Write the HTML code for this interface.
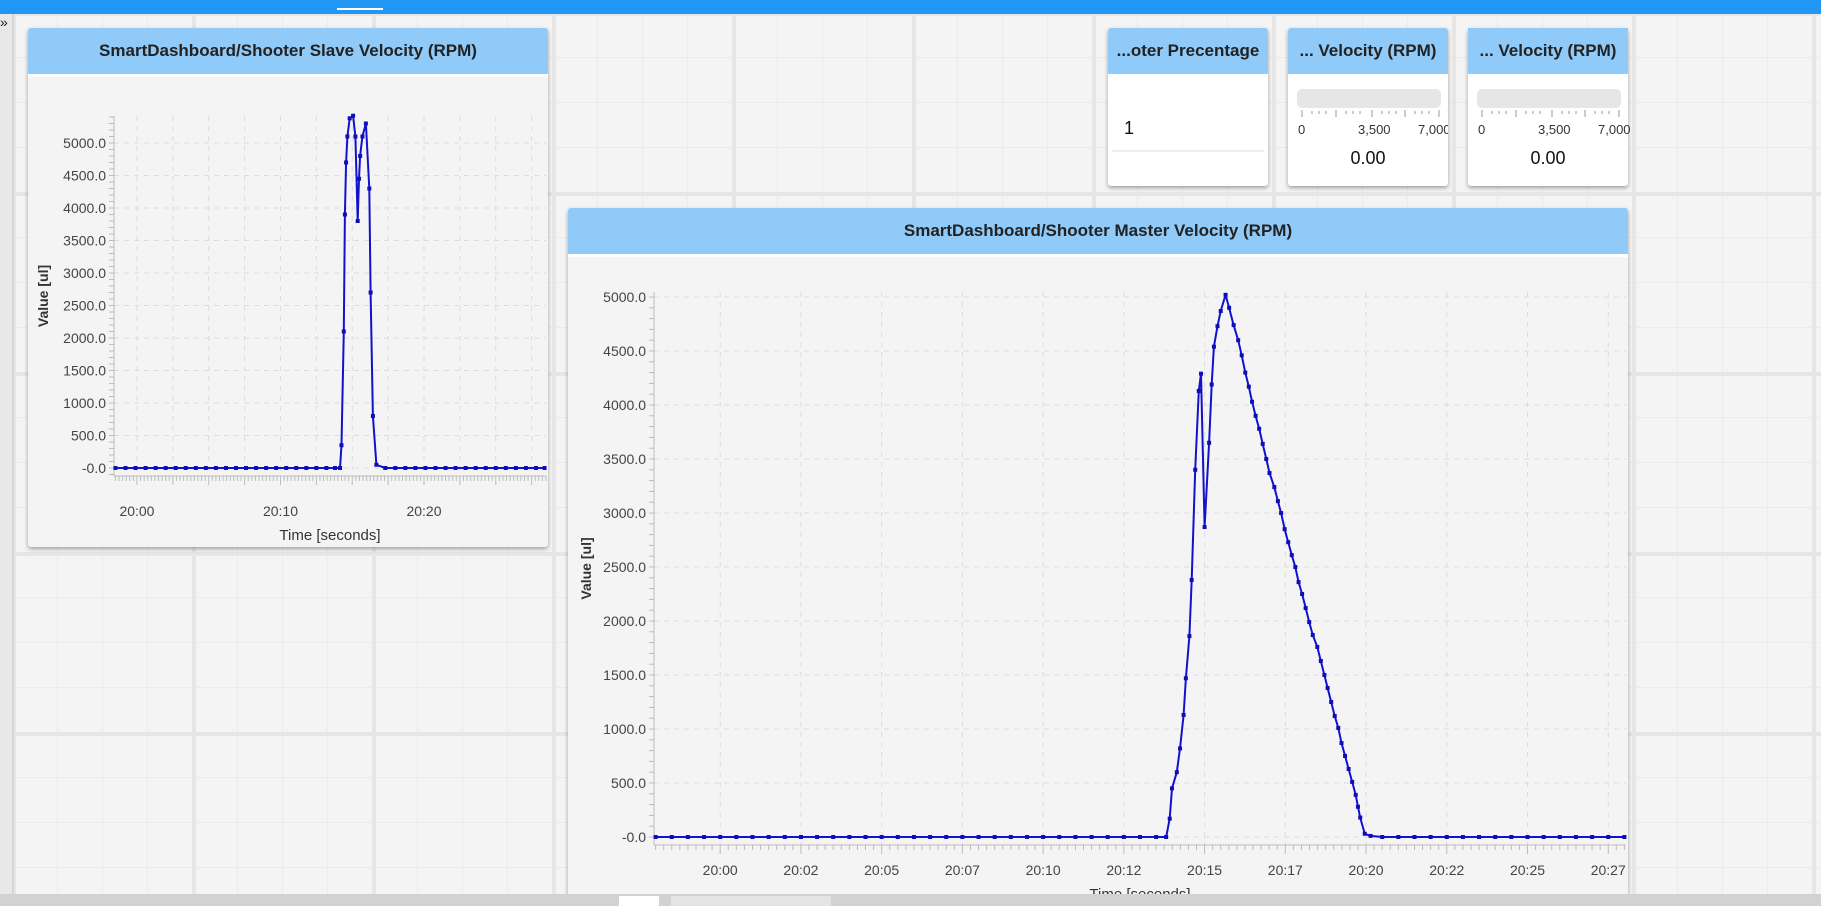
<!DOCTYPE html>
<html><head><meta charset="utf-8"><style>
html,body{margin:0;padding:0;overflow:hidden;width:1821px;height:906px;}
body{position:relative;font-family:"Liberation Sans",sans-serif;
background-color:#f4f4f4;
background-image:
linear-gradient(to right,#e6e6e6 0,#e6e6e6 4px,transparent 4px),
linear-gradient(to bottom,#e6e6e6 0,#e6e6e6 4px,transparent 4px),
linear-gradient(to right,#ebebeb 0,#ebebeb 1px,transparent 1px),
linear-gradient(to bottom,#ebebeb 0,#ebebeb 1px,transparent 1px);
background-size:180px 180px,180px 180px,45px 45px,45px 45px;
background-position:12px 12px,12px 12px,12px 12px,12px 12px;}
.abs{position:absolute;}
.panel{position:absolute;background:#f4f4f4;box-shadow:0 2px 4px rgba(0,0,0,0.35);border-radius:3px;overflow:hidden;}
.hdr{position:absolute;left:0;top:0;right:0;height:46px;background:#90caf9;border-bottom:3px solid #fff;font-weight:bold;font-size:17px;color:#222;text-align:center;line-height:46px;white-space:nowrap;}
.card{background:#fff;}
</style></head><body>
<div class="abs" style="left:0;top:0;width:1821px;height:14px;background:#2196f3;"></div>
<div class="abs" style="left:337px;top:8px;width:46px;height:2px;background:#fff;"></div>
<div class="abs" style="left:0;top:14px;width:12px;height:880px;background:#e8e8e8;border-right:2px solid #d6d6d6;"></div>
<div class="abs" style="left:0;top:14px;font-size:14px;color:#222;">»</div>

<div class="panel" style="left:28px;top:28px;width:520px;height:519px;">
<div class="hdr">SmartDashboard/Shooter Slave Velocity (RPM)</div></div>

<div class="panel" style="left:568px;top:208px;width:1060px;height:686px;border-radius:3px 3px 0 0;">
<div class="hdr">SmartDashboard/Shooter Master Velocity (RPM)</div></div>

<div class="panel card" style="left:1108px;top:28px;width:160px;height:158px;">
<div class="hdr">...oter Precentage</div>
<div class="abs" style="left:16px;top:90px;font-size:18px;color:#111;">1</div>
<div class="abs" style="left:4px;top:122px;width:152px;height:2px;background:#eee;"></div></div>

<div class="panel card" style="left:1288px;top:28px;width:160px;height:158px;">
<div class="hdr">... Velocity (RPM)</div>
<div class="abs" style="left:9px;top:61px;width:144px;height:19px;background:#e6e6e6;border-radius:5px;"></div>
<svg class="abs" style="left:0;top:80px" width="160" height="10"><g stroke="#999" stroke-width="1">
<line x1="14" y1="2" x2="14" y2="9"/><line x1="84" y1="2" x2="84" y2="9"/><line x1="151" y1="2" x2="151" y2="9"/><line x1="48" y1="2" x2="48" y2="9"/><line x1="117" y1="2" x2="117" y2="9"/>
<line x1="24" y1="3" x2="24" y2="6"/><line x1="31" y1="3" x2="31" y2="6"/><line x1="38" y1="3" x2="38" y2="6"/><line x1="58" y1="3" x2="58" y2="6"/><line x1="65" y1="3" x2="65" y2="6"/><line x1="72" y1="3" x2="72" y2="6"/><line x1="94" y1="3" x2="94" y2="6"/><line x1="101" y1="3" x2="101" y2="6"/><line x1="108" y1="3" x2="108" y2="6"/><line x1="127" y1="3" x2="127" y2="6"/><line x1="134" y1="3" x2="134" y2="6"/><line x1="141" y1="3" x2="141" y2="6"/></g></svg>
<div class="abs" style="left:10px;top:94px;font-size:13px;color:#333;">0</div>
<div class="abs" style="left:70px;top:94px;font-size:13px;color:#333;">3,500</div>
<div class="abs" style="left:130px;top:94px;font-size:13px;color:#333;">7,000</div>
<div class="abs" style="left:0;width:160px;text-align:center;top:120px;font-size:18px;color:#111;">0.00</div></div>

<div class="panel card" style="left:1468px;top:28px;width:160px;height:158px;overflow:visible;">
<div class="hdr">... Velocity (RPM)</div>
<div class="abs" style="left:9px;top:61px;width:144px;height:19px;background:#e6e6e6;border-radius:5px;"></div>
<svg class="abs" style="left:0;top:80px" width="160" height="10"><g stroke="#999" stroke-width="1">
<line x1="14" y1="2" x2="14" y2="9"/><line x1="84" y1="2" x2="84" y2="9"/><line x1="151" y1="2" x2="151" y2="9"/><line x1="48" y1="2" x2="48" y2="9"/><line x1="117" y1="2" x2="117" y2="9"/>
<line x1="24" y1="3" x2="24" y2="6"/><line x1="31" y1="3" x2="31" y2="6"/><line x1="38" y1="3" x2="38" y2="6"/><line x1="58" y1="3" x2="58" y2="6"/><line x1="65" y1="3" x2="65" y2="6"/><line x1="72" y1="3" x2="72" y2="6"/><line x1="94" y1="3" x2="94" y2="6"/><line x1="101" y1="3" x2="101" y2="6"/><line x1="108" y1="3" x2="108" y2="6"/><line x1="127" y1="3" x2="127" y2="6"/><line x1="134" y1="3" x2="134" y2="6"/><line x1="141" y1="3" x2="141" y2="6"/></g></svg>
<div class="abs" style="left:10px;top:94px;font-size:13px;color:#333;">0</div>
<div class="abs" style="left:70px;top:94px;font-size:13px;color:#333;">3,500</div>
<div class="abs" style="left:130px;top:94px;font-size:13px;color:#333;">7,000</div>
<div class="abs" style="left:0;width:160px;text-align:center;top:120px;font-size:18px;color:#111;">0.00</div></div>

<svg id="charts" class="abs" style="left:0;top:0;pointer-events:none" width="1821" height="894"></svg>

<div class="abs" style="left:0;top:894px;width:1821px;height:12px;background:#d2d2d2;z-index:10;"></div>
<div class="abs" style="left:619px;top:896px;width:40px;height:10px;background:#fff;z-index:11;"></div>
<div class="abs" style="left:671px;top:896px;width:160px;height:10px;background:#e4e4e4;z-index:11;"></div>

<script>
const slaveTimes=[-1.5,-0.8,-0.1,0.6,1.3,2.0,2.7,3.4,4.1,4.8,5.5,6.2,6.9,7.6,8.3,9.0,9.7,10.4,11.1,11.8,12.5,13.2,13.8,14.15,14.25,14.41,14.49,14.57,14.66,14.82,15.06,15.22,15.38,15.47,15.55,15.71,15.95,16.19,16.28,16.44,16.68,17.3,18.0,18.7,19.4,20.1,20.8,21.5,22.2,22.9,23.6,24.3,25.0,25.7,26.4,27.1,27.8,28.4];
const slaveValues=[0,0,0,0,0,0,0,0,0,0,0,0,0,0,0,0,0,0,0,0,0,0,0,0,350,2100,3900,4700,5100,5380,5420,5100,3800,4450,4800,5100,5300,4300,2700,800,50,0,0,0,0,0,0,0,0,0,0,0,0,0,0,0,0,0];
const masterTimes=[-2,-1.5,-1,-0.5,0,0.5,1,1.5,2,2.5,3,3.5,4,4.5,5,5.5,6,6.5,7,7.5,8,8.5,9,9.5,10,10.5,11,11.5,12,12.5,13,13.5,13.81,13.92,13.99,14.14,14.24,14.35,14.42,14.53,14.60,14.71,14.82,14.89,15.00,15.14,15.22,15.29,15.40,15.50,15.65,15.76,15.90,16.04,16.15,16.26,16.37,16.47,16.58,16.69,16.80,16.91,17.01,17.16,17.27,17.37,17.48,17.59,17.70,17.81,17.91,18.02,18.13,18.24,18.35,18.49,18.60,18.71,18.81,18.92,19.03,19.14,19.24,19.35,19.46,19.57,19.68,19.75,19.82,19.96,20.14,20.5,21,21.5,22,22.5,23,23.5,24,24.5,25,25.5,26,26.5,27,27.5,28];
const masterValues=[0,0,0,0,0,0,0,0,0,0,0,0,0,0,0,0,0,0,0,0,0,0,0,0,0,0,0,0,0,0,0,0,0,170,450,600,820,1130,1470,1860,2380,3400,4130,4290,2870,3650,4190,4540,4730,4870,5020,4900,4740,4600,4460,4300,4170,4030,3900,3780,3640,3500,3370,3240,3110,3000,2850,2730,2610,2500,2360,2250,2120,1990,1870,1760,1630,1500,1380,1250,1120,1010,870,750,630,510,390,280,180,30,10,0,0,0,0,0,0,0,0,0,0,0,0,0,0,0,0];
const slaveXLabels=["20:00","20:10","20:20"];
const slaveXLabelTimes=[0,10,20];
const slaveGridTimes=[-2.5,0,2.5,5,7.5,10,12.5,15,17.5,20,22.5,25,27.5];
const masterXLabels=["20:00","20:02","20:05","20:07","20:10","20:12","20:15","20:17","20:20","20:22","20:25","20:27"];
const masterXLabelTimes=[0,2.5,5,7.5,10,12.5,15,17.5,20,22.5,25,27.5];
const yTickValues=[0,500,1000,1500,2000,2500,3000,3500,4000,4500,5000];
const yTickLabels=["-0.0","500.0","1000.0","1500.0","2000.0","2500.0","3000.0","3500.0","4000.0","4500.0","5000.0"];

const NS="http://www.w3.org/2000/svg";
const svg=document.getElementById('charts');
function mk(tag,attrs,parent){const e=document.createElementNS(NS,tag);for(const k in attrs)e.setAttribute(k,attrs[k]);(parent||svg).appendChild(e);return e;}

function drawChart(cfg){
  const g=mk('g',{});
  
  
  const sx=t=>cfg.x0+(t-cfg.t0)*(cfg.x1-cfg.x0)/(cfg.t1-cfg.t0);
  const sy=v=>cfg.y0-(v)*(cfg.y0-cfg.y5000)/5000;
  const left=cfg.x0,right=cfg.x1,top=cfg.top,bottom=cfg.y0+8;
  yTickValues.forEach(v=>{mk('line',{x1:left,x2:right,y1:sy(v),y2:sy(v),stroke:'#dcdcdc','stroke-dasharray':'5,5','stroke-width':1},g);});
  cfg.gridTimes.forEach(t=>{const x=sx(t);if(x<left||x>right)return;mk('line',{x1:x,x2:x,y1:top,y2:bottom,stroke:'#dcdcdc','stroke-dasharray':'5,5','stroke-width':1},g);});
  mk('line',{x1:left,x2:left,y1:top,y2:bottom,stroke:'#bbb','stroke-width':1},g);
  mk('line',{x1:left,x2:right,y1:bottom,y2:bottom,stroke:'#bbb','stroke-width':1},g);
  for(let v=-200;v<=cfg.vmax;v+=100){const y=sy(v);if(y<top||y>bottom)continue;mk('line',{x1:left-5,x2:left,y1:y,y2:y,stroke:'#bbb','stroke-width':1},g);}
  for(let t=Math.ceil(cfg.t0*4)/4;t<=cfg.t1;t+=0.25){const x=sx(t);const major=Math.abs(t/2.5-Math.round(t/2.5))<1e-6;mk('line',{x1:x,x2:x,y1:bottom,y2:bottom+(major?9:5),stroke:'#bbb','stroke-width':1},g);}
  yTickValues.forEach((v,i)=>{const tx=mk('text',{x:left-8,y:sy(v)+5,'text-anchor':'end','font-size':14,fill:'#444','font-family':'Liberation Sans, sans-serif'},g);tx.textContent=yTickLabels[i];});
  cfg.labelTimes.forEach((t,i)=>{const tx=mk('text',{x:sx(t),y:bottom+cfg.labOff,'text-anchor':'middle','font-size':14,fill:'#444','font-family':'Liberation Sans, sans-serif'},g);tx.textContent=cfg.labels[i];});
  const yl=mk('text',{x:0,y:0,transform:`translate(${cfg.ylx},${(top+bottom)/2}) rotate(-90)`,'text-anchor':'middle','font-size':14,'font-weight':'bold',fill:'#333','font-family':'Liberation Sans, sans-serif'},g);
  yl.textContent='Value [ul]';
  
  
  const xl=mk('text',{x:(left+right)/2,y:bottom+cfg.labOff+24,'text-anchor':'middle','font-size':15,fill:'#333','font-family':'Liberation Sans, sans-serif'},g);
  xl.textContent='Time [seconds]';
  
  
  const pts=cfg.times.map((t,i)=>sx(t).toFixed(1)+','+sy(cfg.values[i]).toFixed(1)).join(' ');
  const line=mk('polyline',{points:pts,fill:'none',stroke:'#1212cc','stroke-width':2,'stroke-linejoin':'round'},g);
  
  
  cfg.times.forEach((t,i)=>{const r=mk('rect',{x:sx(t)-2,y:sy(cfg.values[i])-2,width:4,height:4,fill:'#0e0eb8'},g);
    
    });
}
drawChart({name:'slave-velocity-chart',times:slaveTimes,values:slaveValues,labels:slaveXLabels,labelTimes:slaveXLabelTimes,gridTimes:slaveGridTimes,
  t0:-1.6,t1:28.5,x0:114,x1:546,y0:468,y5000:143,top:116,vmax:5500,ylx:48,labOff:40});
drawChart({name:'master-velocity-chart',times:masterTimes,values:masterValues,labels:masterXLabels,labelTimes:masterXLabelTimes,gridTimes:masterXLabelTimes,
  t0:-2.05,t1:28.05,x0:654,x1:1626,y0:837,y5000:297,top:292,vmax:5050,ylx:591,labOff:30});
</script>
</body></html>
